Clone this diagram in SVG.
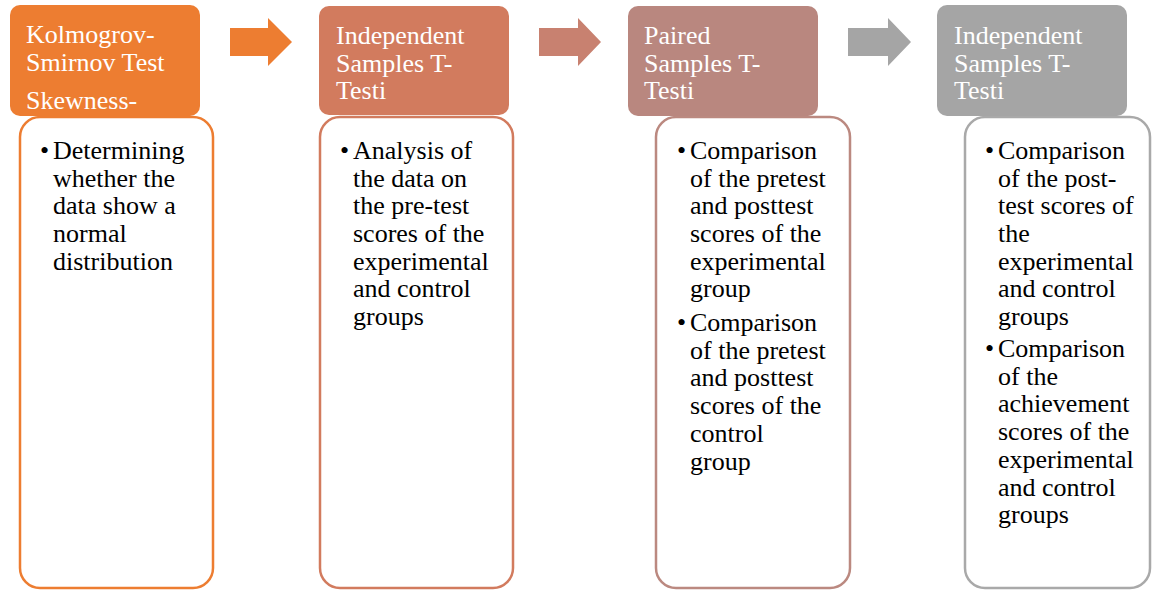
<svg xmlns="http://www.w3.org/2000/svg" width="1152" height="590" viewBox="0 0 1152 590">
<style>
.hdr{font-family:"Liberation Serif","Times New Roman",serif;font-size:26px;fill:#ffffff}
.txt{font-family:"Liberation Serif","Times New Roman",serif;font-size:26px;fill:#000000}
.body{fill:#ffffff;stroke-width:2.5}
</style>
<rect width="1152" height="590" fill="#ffffff"/>
<g id="connectors">
<polygon points="230,28 268,28 268,18 292,42 268,66 268,56 230,56" fill="#ED7D31"/>
<polygon points="539,28 578,28 578,18 601,42 578,66 578,56 539,56" fill="#C88170"/>
<polygon points="848,28 888,28 888,18 911,42 888,66 888,56 848,56" fill="#A5A5A5"/>
</g>
<g id="node1">
<rect class="body" x="20" y="117" width="193" height="471" rx="20" stroke="#ED7D31"/>
<rect x="10" y="5" width="190" height="111" rx="10" fill="#ED7D31"/>
<text class="hdr" x="26" y="43">Kolmogrov-</text>
<text class="hdr" x="26" y="71">Smirnov Test</text>
<text class="hdr" x="26" y="109">Skewness-</text>
<text class="txt" x="40" y="159">•</text>
<text class="txt"><tspan x="53" y="159">Determining</tspan><tspan x="53" y="187">whether the</tspan><tspan x="53" y="214">data show a</tspan><tspan x="53" y="242">normal</tspan><tspan x="53" y="270">distribution</tspan></text>
</g>
<g id="node2">
<rect class="body" x="320" y="117" width="193" height="471" rx="20" stroke="#D27B5E"/>
<rect x="319" y="6" width="190" height="109" rx="10" fill="#D27B5E"/>
<text class="hdr"><tspan x="336" y="44">Independent</tspan><tspan x="336" y="72">Samples T-</tspan><tspan x="336" y="99">Testi</tspan></text>
<text class="txt" x="340" y="159">•</text>
<text class="txt"><tspan x="353" y="159">Analysis of</tspan><tspan x="353" y="187">the data on</tspan><tspan x="353" y="214">the pre-test</tspan><tspan x="353" y="242">scores of the</tspan><tspan x="353" y="270">experimental</tspan><tspan x="353" y="297">and control</tspan><tspan x="353" y="325">groups</tspan></text>
</g>
<g id="node3">
<rect class="body" x="656" y="117" width="194" height="471" rx="20" stroke="#BB8980"/>
<rect x="628" y="6" width="190" height="110" rx="10" fill="#B9877F"/>
<text class="hdr"><tspan x="644" y="44">Paired</tspan><tspan x="644" y="72">Samples T-</tspan><tspan x="644" y="99">Testi</tspan></text>
<text class="txt" x="677" y="159">•</text>
<text class="txt"><tspan x="690" y="159">Comparison</tspan><tspan x="690" y="187">of the pretest</tspan><tspan x="690" y="214">and posttest</tspan><tspan x="690" y="242">scores of the</tspan><tspan x="690" y="270">experimental</tspan><tspan x="690" y="297">group</tspan></text>
<text class="txt" x="677" y="331">•</text>
<text class="txt"><tspan x="690" y="331">Comparison</tspan><tspan x="690" y="359">of the pretest</tspan><tspan x="690" y="386">and posttest</tspan><tspan x="690" y="414">scores of the</tspan><tspan x="690" y="442">control</tspan><tspan x="690" y="470">group</tspan></text>
</g>
<g id="node4">
<rect class="body" x="965" y="117" width="185" height="471" rx="20" stroke="#A9A9A9"/>
<rect x="937" y="5" width="190" height="111" rx="10" fill="#A5A5A5"/>
<text class="hdr"><tspan x="954" y="44">Independent</tspan><tspan x="954" y="72">Samples T-</tspan><tspan x="954" y="99">Testi</tspan></text>
<text class="txt" x="985" y="159">•</text>
<text class="txt"><tspan x="998" y="159">Comparison</tspan><tspan x="998" y="187">of the post-</tspan><tspan x="998" y="214">test scores of</tspan><tspan x="998" y="242">the</tspan><tspan x="998" y="270">experimental</tspan><tspan x="998" y="297">and control</tspan><tspan x="998" y="325">groups</tspan></text>
<text class="txt" x="985" y="357">•</text>
<text class="txt"><tspan x="998" y="357">Comparison</tspan><tspan x="998" y="385">of the</tspan><tspan x="998" y="412">achievement</tspan><tspan x="998" y="440">scores of the</tspan><tspan x="998" y="468">experimental</tspan><tspan x="998" y="496">and control</tspan><tspan x="998" y="523">groups</tspan></text>
</g>
</svg>
